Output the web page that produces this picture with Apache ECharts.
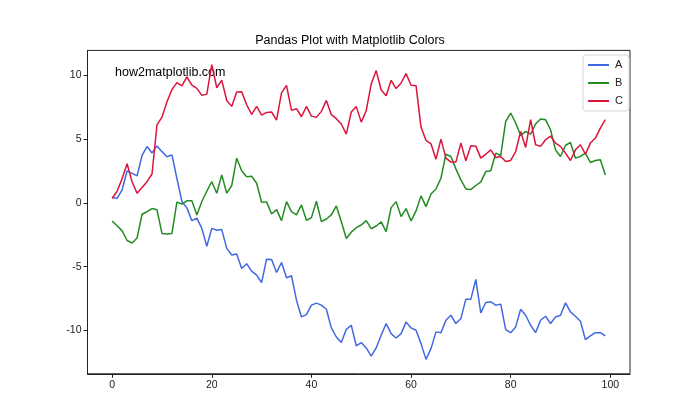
<!DOCTYPE html>
<html><head><meta charset="utf-8">
<script src="https://cdn.jsdelivr.net/npm/echarts@6/dist/echarts.min.js"></script>
<style>html,body{margin:0;padding:0;background:#fff}#c{width:700px;height:420px}</style>
</head><body><div id="c"></div>
<script>
const seriesNames = ['A', 'B', 'C'];
const seriesColors = ['#4169E1', '#228B22', '#DC143C'];
const xTicks = [0, 20, 40, 60, 80, 100];
const yTicks = [-10, -5, 0, 5, 10];

const A = [0.42,0.35,1.0,2.5,2.3,2.1,3.7,4.4,3.9,4.45,4.0,3.6,3.75,1.9,0.1,-0.4,-1.4,-1.2,-2.0,-3.4,
  -2.0,-2.15,-2.1,-3.57,-4.09,-4.01,-5.14,-4.77,-5.35,-5.66,-6.24,-4.41,-4.43,-5.45,-4.67,-5.87,-5.71,-7.62,-8.93,-8.75,
  -8.01,-7.85,-8.01,-8.33,-9.79,-10.5,-10.94,-9.9,-9.58,-11.2,-10.94,-11.36,-11.99,-11.36,-10.37,-9.45,-10.24,-10.58,-10.24,-9.32,
  -9.79,-9.97,-11.02,-12.25,-11.41,-10.1,-10.16,-9.19,-8.8,-9.45,-9.06,-7.54,-7.54,-6.0,-8.61,-7.8,-7.75,-8.01,-7.93,-9.92,
  -10.16,-9.71,-8.33,-8.8,-9.58,-10.16,-9.19,-8.88,-9.45,-8.93,-8.8,-7.83,-8.54,-8.88,-9.27,-10.71,-10.42,-10.16,-10.16,-10.42];
const B = [-1.42,-1.8,-2.2,-2.95,-3.15,-2.75,-0.9,-0.7,-0.45,-0.55,-2.4,-2.45,-2.4,0.05,-0.1,0.15,0.15,-0.95,0.1,0.9,
  1.65,0.75,2.18,0.75,1.35,3.49,2.5,2.03,2.08,1.53,0.04,0.07,-0.88,-0.54,-1.4,0.09,-0.69,-0.95,-0.17,-1.37,
  -1.16,0.12,-1.48,-1.27,-0.95,-0.25,-1.48,-2.79,-2.3,-1.95,-1.74,-1.4,-2.03,-1.82,-1.5,-2.26,-0.38,0.09,-1.08,-0.46,
  -1.42,-0.64,0.54,-0.3,0.69,1.08,1.92,3.8,3.62,2.65,1.79,1.08,1.03,1.35,1.63,2.44,2.5,3.88,3.7,6.37,
  7.02,6.24,5.27,5.58,5.37,6.16,6.55,6.5,5.71,4.14,3.62,4.48,4.72,3.49,3.62,3.88,3.15,3.31,3.36,2.18];
const C = [0.35,0.9,1.9,3.05,1.65,0.75,1.2,1.65,2.25,6.1,6.7,7.9,8.85,9.4,9.15,9.85,9.2,8.95,8.4,8.5,
  10.8,9.0,9.6,8.0,7.54,8.67,8.69,7.67,6.92,7.54,6.86,7.07,7.1,6.47,8.59,9.19,7.23,7.36,6.73,7.54,
  6.78,6.68,7.15,8.01,6.89,6.58,6.16,5.37,7.1,7.54,6.31,7.2,9.29,10.34,8.82,8.38,9.58,8.93,9.37,10.1,
  9.19,9.16,5.92,4.88,4.61,3.41,4.98,3.49,3.18,3.18,4.67,3.28,4.46,4.43,3.49,3.8,4.14,3.54,3.62,3.23,
  3.31,4.01,5.58,4.33,6.5,4.54,4.41,4.93,5.22,4.67,4.41,3.88,3.31,4.14,4.54,3.8,4.67,5.06,5.84,6.5];
const titleText = 'Pandas Plot with Matplotlib Colors';
const watermark = 'how2matplotlib.com';

const values = [A, B, C];
const FONT = 'Liberation Sans';
const chart = echarts.init(document.getElementById('c'), null, {renderer: 'canvas'});
chart.setOption({
  animation: false,
  backgroundColor: '#fff',
  textStyle: {fontFamily: FONT},
  grid: {left: 87.5, right: 70, top: 50.4, bottom: 46.2, show: true, borderColor: '#222', borderWidth: 1, backgroundColor: 'transparent'},
  xAxis: {
    type: 'value', min: -4.95, max: 103.95,
    axisLine: {show: true, onZero: false, lineStyle: {color: '#222', width: 1}},
    axisTick: {show: true, inside: false, length: 4, lineStyle: {color: '#222'}, customValues: xTicks},
    axisLabel: {color: '#222', fontSize: 10.5, fontFamily: FONT, margin: 6, customValues: xTicks},
    splitLine: {show: false}
  },
  yAxis: {
    type: 'value', min: -13.38, max: 11.92,
    axisLine: {show: true, onZero: false, lineStyle: {color: '#222', width: 1}},
    axisTick: {show: true, inside: false, length: 4, lineStyle: {color: '#222'}, customValues: yTicks},
    axisLabel: {color: '#222', fontSize: 10.5, fontFamily: FONT, margin: 6, customValues: yTicks},
    splitLine: {show: false}
  },
  legend: {
    orient: 'vertical', right: 71, top: 55,
    data: seriesNames,
    itemWidth: 21, itemHeight: 10, itemGap: 6,
    itemStyle: {opacity: 0},
    borderColor: '#d5d5d5', borderWidth: 1, borderRadius: 3, padding: [4, 6, 4, 4],
    backgroundColor: 'rgba(255,255,255,0.8)',
    textStyle: {fontSize: 11, lineHeight: 12, color: '#222', fontFamily: FONT, padding: [0, 0, 0, 1]}
  },
  graphic: [
    {type: 'text', left: 'center', top: 34, style: {text: titleText, font: '12.5px ' + FONT, fill: '#000'}, x: 9},
    {type: 'text', left: 115, top: 66, style: {text: watermark, font: '12.5px ' + FONT, fill: '#000'}}
  ],
  series: values.map((arr, i) => ({
    name: seriesNames[i], type: 'line', symbol: 'none',
    data: arr.map((v, j) => [j, v]),
    lineStyle: {color: seriesColors[i], width: 1.5},
    itemStyle: {color: seriesColors[i]}
  }))
});
</script></body></html>
